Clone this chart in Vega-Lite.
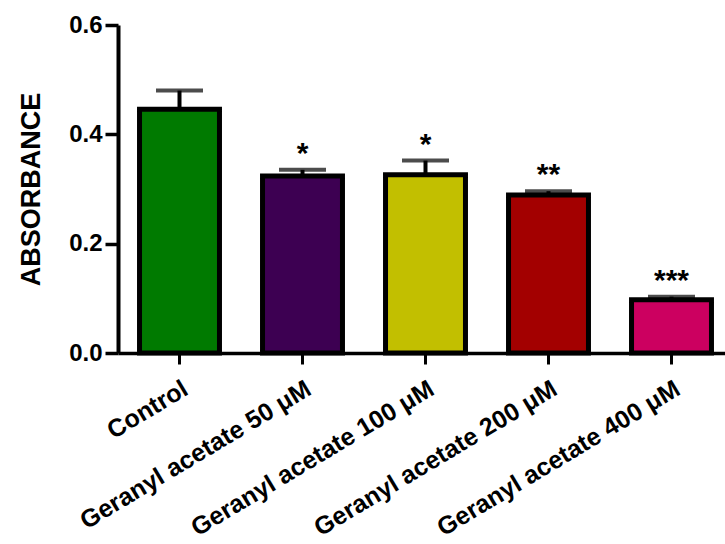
{
  "$schema": "https://vega.github.io/schema/vega-lite/v6.json",
  "width": 607,
  "height": 328,
  "autosize": "none",
  "padding": {"left": 118, "top": 25, "right": 0, "bottom": 191},
  "background": "white",
  "config": {
    "view": {"stroke": null},
    "font": "Liberation Sans"
  },
  "data": {
    "values": [
      {"group": "Control", "mean": 0.446, "upper": 0.480, "sig": "", "color": "Control"},
      {"group": "Geranyl acetate 50 μM", "mean": 0.324, "upper": 0.335, "sig": "*", "color": "G50"},
      {"group": "Geranyl acetate 100 μM", "mean": 0.326, "upper": 0.352, "sig": "*", "color": "G100"},
      {"group": "Geranyl acetate 200 μM", "mean": 0.289, "upper": 0.296, "sig": "**", "color": "G200"},
      {"group": "Geranyl acetate 400 μM", "mean": 0.0975, "upper": 0.103, "sig": "***", "color": "G400"}
    ]
  },
  "encoding": {
    "x": {
      "field": "group",
      "type": "nominal",
      "sort": null,
      "scale": {"range": [0, 615], "paddingInner": 0.35, "paddingOuter": 0.175},
      "axis": {
        "title": null,
        "labelAngle": -31,
        "labelFont": "Liberation Sans",
        "labelFontWeight": "bold",
        "labelFontSize": 25,
        "labelColor": "black",
        "labelPadding": 12,
        "labelLimit": 400,
        "domainColor": "black",
        "domainWidth": 3.5,
        "tickColor": "black",
        "tickWidth": 3,
        "tickSize": 11
      }
    }
  },
  "layer": [
    {
      "mark": {"type": "bar", "stroke": "black", "strokeWidth": 5},
      "encoding": {
        "y": {
          "field": "mean",
          "type": "quantitative",
          "scale": {"domain": [0, 0.6], "nice": false},
          "axis": {
            "title": "ABSORBANCE",
            "titleFont": "Liberation Sans",
            "titleFontWeight": "bold",
            "titleFontSize": 27,
            "titleColor": "black",
            "titlePadding": 23,
            "values": [0, 0.2, 0.4, 0.6],
            "format": ".1f",
            "grid": false,
            "labelFont": "Liberation Sans",
            "labelFontWeight": "bold",
            "labelFontSize": 24,
            "labelColor": "black",
            "labelPadding": 3,
            "domainColor": "black",
            "domainWidth": 4,
            "tickColor": "black",
            "tickWidth": 3.5,
            "tickSize": 13
          }
        },
        "fill": {
          "field": "color",
          "type": "nominal",
          "scale": {
            "domain": ["Control", "G50", "G100", "G200", "G400"],
            "range": ["#007A00", "#3D0052", "#C2BF00", "#A30000", "#CC0060"]
          },
          "legend": null
        }
      }
    },
    {
      "mark": {"type": "rule", "color": "black", "strokeWidth": 4},
      "encoding": {
        "y": {"field": "mean", "type": "quantitative"},
        "y2": {"field": "upper"}
      }
    },
    {
      "mark": {"type": "tick", "color": "black", "thickness": 4, "size": 47, "orient": "horizontal"},
      "encoding": {
        "y": {"field": "upper", "type": "quantitative"}
      }
    },
    {
      "mark": {"type": "text", "fontSize": 30, "fontWeight": "bold", "font": "Liberation Sans", "color": "black", "baseline": "middle", "dy": -16},
      "encoding": {
        "y": {"field": "upper", "type": "quantitative"},
        "text": {"field": "sig"}
      }
    }
  ]
}
